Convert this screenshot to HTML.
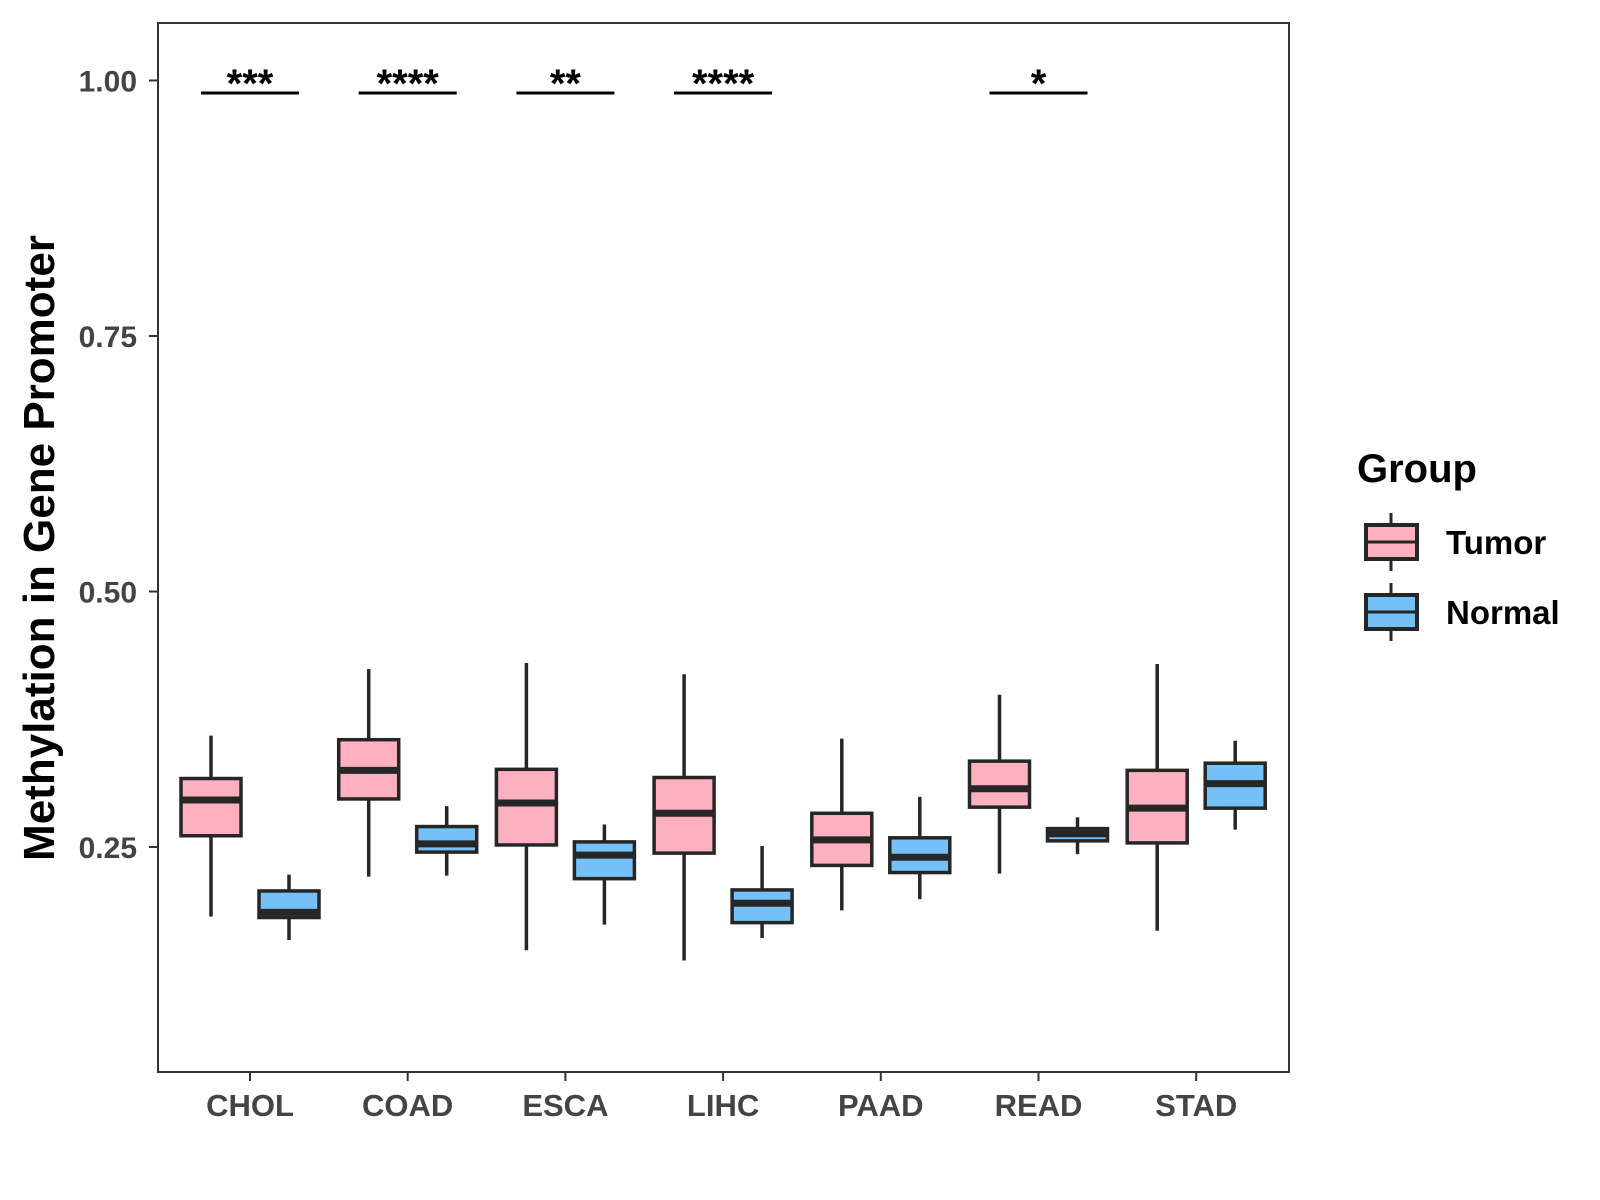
<!DOCTYPE html>
<html><head><meta charset="utf-8"><style>
body{margin:0;background:#fff}
svg{display:block;font-family:"Liberation Sans",Arial,sans-serif}
</style></head><body>
<svg id="chart" width="1600" height="1200" viewBox="0 0 1600 1200" xmlns="http://www.w3.org/2000/svg">
<rect x="0" y="0" width="1600" height="1200" fill="#fff"/>
<g id="marks"></g>
<rect x="158" y="23" width="1131" height="1049" fill="none" stroke="#333" stroke-width="2"/>
<text transform="translate(54,548) rotate(-90)" text-anchor="middle" font-size="44" font-weight="bold" fill="#000">Methylation in Gene Promoter</text>
<g>
<text x="1357" y="482" font-size="40" font-weight="bold" fill="#000">Group</text>
<g>
<line x1="1391" y1="513" x2="1391" y2="571" stroke="#262626" stroke-width="3"/>
<rect x="1366" y="525" width="51" height="34" fill="#FDB0C0" stroke="#262626" stroke-width="4"/>
<line x1="1366" y1="542" x2="1417" y2="542" stroke="#262626" stroke-width="3"/>
<text x="1446" y="554" font-size="33" font-weight="bold" fill="#000">Tumor</text>
</g>
<g>
<line x1="1391" y1="583" x2="1391" y2="641" stroke="#262626" stroke-width="3"/>
<rect x="1366" y="595" width="51" height="34" fill="#74C0F7" stroke="#262626" stroke-width="4"/>
<line x1="1366" y1="612" x2="1417" y2="612" stroke="#262626" stroke-width="3"/>
<text x="1446" y="624" font-size="33" font-weight="bold" fill="#000">Normal</text>
</g>
</g>
</svg>
<script>
const categories=["CHOL","COAD","ESCA","LIHC","PAAD","READ","STAD"];
const tumorLow=[0.182,0.221,0.149,0.139,0.188,0.224,0.168];
const tumorQ1=[0.261,0.297,0.252,0.244,0.232,0.289,0.254];
const tumorMed=[0.296,0.325,0.293,0.283,0.257,0.307,0.288];
const tumorQ3=[0.317,0.355,0.326,0.318,0.283,0.334,0.325];
const tumorHigh=[0.359,0.424,0.430,0.419,0.356,0.399,0.429];
const normalLow=[0.159,0.222,0.174,0.161,0.199,0.243,0.267];
const normalQ1=[0.181,0.245,0.219,0.176,0.225,0.256,0.288];
const normalMed=[0.186,0.253,0.242,0.195,0.240,0.263,0.312];
const normalQ3=[0.207,0.270,0.255,0.208,0.259,0.268,0.332];
const normalHigh=[0.223,0.290,0.272,0.251,0.299,0.279,0.354];
const yTicks=[0.25,0.50,0.75,1.00];
const yTickLabels=["0.25","0.50","0.75","1.00"];
const sigLabels=["***","****","**","****","","*",""];

const NS="http://www.w3.org/2000/svg";
const svg=document.getElementById('marks');
const Y0=0.25,PY0=847,PXPER=1022;
function yScale(v){return PY0-(v-Y0)*PXPER;}
function xScale(i){return 250+i*157.7;}
function mk(tag,attrs,parent){const e=document.createElementNS(NS,tag);for(const k in attrs)e.setAttribute(k,attrs[k]);(parent||svg).appendChild(e);return e;}

yTicks.forEach((t,i)=>{
  const y=yScale(t);
  const tk=mk('line',{x1:149,x2:158,y1:y,y2:y,stroke:'#333','stroke-width':2});
  
  
  const tx=mk('text',{x:137,y:y+11,'text-anchor':'end','font-size':30,'font-weight':'bold',fill:'#444'});
  
  
  tx.textContent=yTickLabels[i];
});
categories.forEach((c,i)=>{
  const x=xScale(i);
  const tk=mk('line',{x1:x,x2:x,y1:1072,y2:1081,stroke:'#333','stroke-width':2});
  
  
  const tx=mk('text',{x:x,y:1116,'text-anchor':'middle','font-size':31,'font-weight':'bold',fill:'#444'});
  
  
  tx.textContent=c;
});
function box(cx,lo,q1,md,q3,hi,fill,name){
  const g=mk('g',{});
  
  
  const w=60;
  mk('line',{x1:cx,x2:cx,y1:yScale(hi),y2:yScale(lo),stroke:'#262626','stroke-width':3.5},g);
  mk('rect',{x:cx-w/2,y:yScale(q3),width:w,height:yScale(q1)-yScale(q3),fill:fill,stroke:'#262626','stroke-width':3.5},g);
  mk('line',{x1:cx-w/2,x2:cx+w/2,y1:yScale(md),y2:yScale(md),stroke:'#262626','stroke-width':7},g);
}
categories.forEach((c,i)=>{
  const x=xScale(i);
  box(x-39,tumorLow[i],tumorQ1[i],tumorMed[i],tumorQ3[i],tumorHigh[i],'#FDB0C0','box-tumor-'+c.toLowerCase());
  box(x+39,normalLow[i],normalQ1[i],normalMed[i],normalQ3[i],normalHigh[i],'#74C0F7','box-normal-'+c.toLowerCase());
  if(sigLabels[i]){
    const l=mk('line',{x1:x-49,x2:x+49,y1:93,y2:93,stroke:'#000','stroke-width':3});
    
    
    const t=mk('text',{x:x,y:97,'text-anchor':'middle','font-size':40,'font-weight':'bold',fill:'#000'});
    
    
    t.textContent=sigLabels[i];
  }
});
</script>
</body></html>
